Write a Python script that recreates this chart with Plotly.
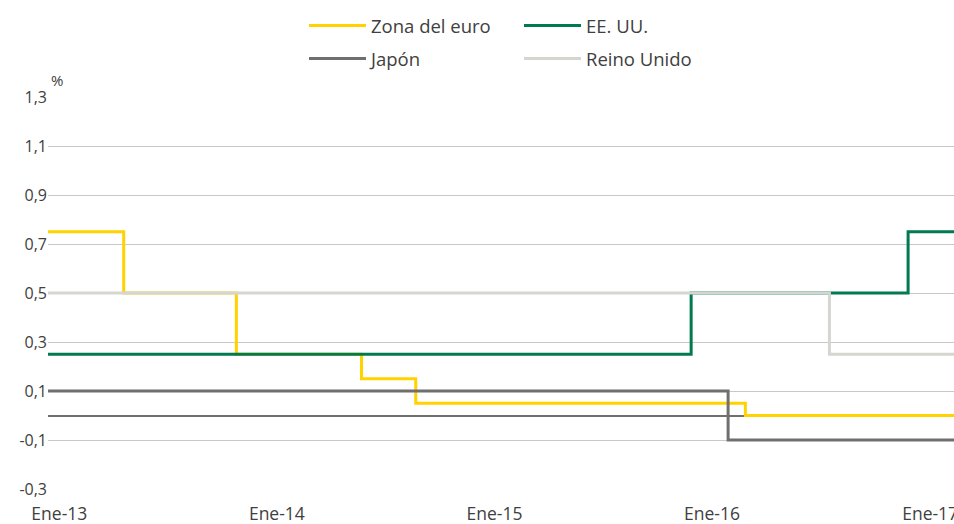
import plotly.graph_objects as go

# Data (policy rates, %), step changes
euro_dates = ["2013-01-01", "2013-05-08", "2013-11-13", "2014-06-11", "2014-09-10", "2016-03-16", "2017-03-01"]
euro_vals = [0.75, 0.50, 0.25, 0.15, 0.05, 0.00, 0.00]

us_dates = ["2013-01-01", "2015-12-16", "2016-12-14", "2017-03-01"]
us_vals = [0.25, 0.50, 0.75, 0.75]

jp_dates = ["2013-01-01", "2016-02-16", "2017-03-01"]
jp_vals = [0.10, -0.10, -0.10]

uk_dates = ["2013-01-01", "2016-08-04", "2017-03-01"]
uk_vals = [0.50, 0.25, 0.25]

tick_dates = ["2013-01-20", "2014-01-20", "2015-01-20", "2016-01-20", "2017-01-20"]
tick_labels = ["Ene-13", "Ene-14", "Ene-15", "Ene-16", "Ene-17"]
y_ticks = [-0.3, -0.1, 0.1, 0.3, 0.5, 0.7, 0.9, 1.1, 1.3]
y_labels = ["-0,3", "-0,1", "0,1", "0,3", "0,5", "0,7", "0,9", "1,1", "1,3"]

FONT = "Open Sans"
TXT = "#404040"

L, T, W, H = 48, 97, 906, 392

def px(xp):
    return (xp - L) / W

def py(yp):
    return (T + H - yp) / H

fig = go.Figure()
fig.add_trace(go.Scatter(x=euro_dates, y=euro_vals, mode="lines", line_shape="hv",
                         line=dict(color="#FFD200", width=3), name="Zona del euro", legend="legend"))
fig.add_trace(go.Scatter(x=us_dates, y=us_vals, mode="lines", line_shape="hv",
                         line=dict(color="#007A4E", width=3), name="EE. UU.", legend="legend2"))
fig.add_trace(go.Scatter(x=jp_dates, y=jp_vals, mode="lines", line_shape="hv",
                         line=dict(color="#6F6F6F", width=3), name="Japón", legend="legend3"))
fig.add_trace(go.Scatter(x=uk_dates, y=uk_vals, mode="lines", line_shape="hv",
                         line=dict(color="#D6D6D0", width=3), name="Reino Unido", legend="legend4"))

def leg(x, y):
    return dict(x=px(x), y=py(y), xanchor="left", yanchor="middle",
                orientation="v", bgcolor="rgba(0,0,0,0)", borderwidth=0, itemwidth=57,
                font=dict(family=FONT, size=18.5, color=TXT))

fig.update_layout(
    width=954, height=524,
    margin=dict(l=L, r=954 - L - W, t=T, b=524 - T - H, autoexpand=False),
    paper_bgcolor="white", plot_bgcolor="white",
    showlegend=True,
    legend=leg(304, 26),
    legend2=leg(519, 26),
    legend3=leg(304, 59),
    legend4=leg(519, 59),
    xaxis=dict(type="date", range=["2013-01-01", "2017-03-01"], tickvals=tick_dates, ticktext=tick_labels,
               showgrid=False, zeroline=False, showline=False, ticks="", automargin=False,
               ticklabelstandoff=12, ticklabeloverflow="allow",
               tickfont=dict(family=FONT, size=17.5, color=TXT)),
    yaxis=dict(range=[-0.3, 1.3], tickvals=y_ticks, ticktext=y_labels, showgrid=True,
               gridcolor="#C8C8C8", gridwidth=1, zeroline=True, zerolinecolor="#6F6F6F", zerolinewidth=1.5,
               showline=False, ticks="", automargin=False,
               tickfont=dict(family=FONT, size=16, color=TXT)),
    annotations=[dict(text="%", x=px(57), y=py(80), xref="paper", yref="paper",
                      showarrow=False, xanchor="center", yanchor="middle",
                      font=dict(family=FONT, size=15, color=TXT))],
)

fig.write_html("out.html", config={"displayModeBar": False},
               post_script="document.body.style.margin='0';document.body.style.padding='0';")
